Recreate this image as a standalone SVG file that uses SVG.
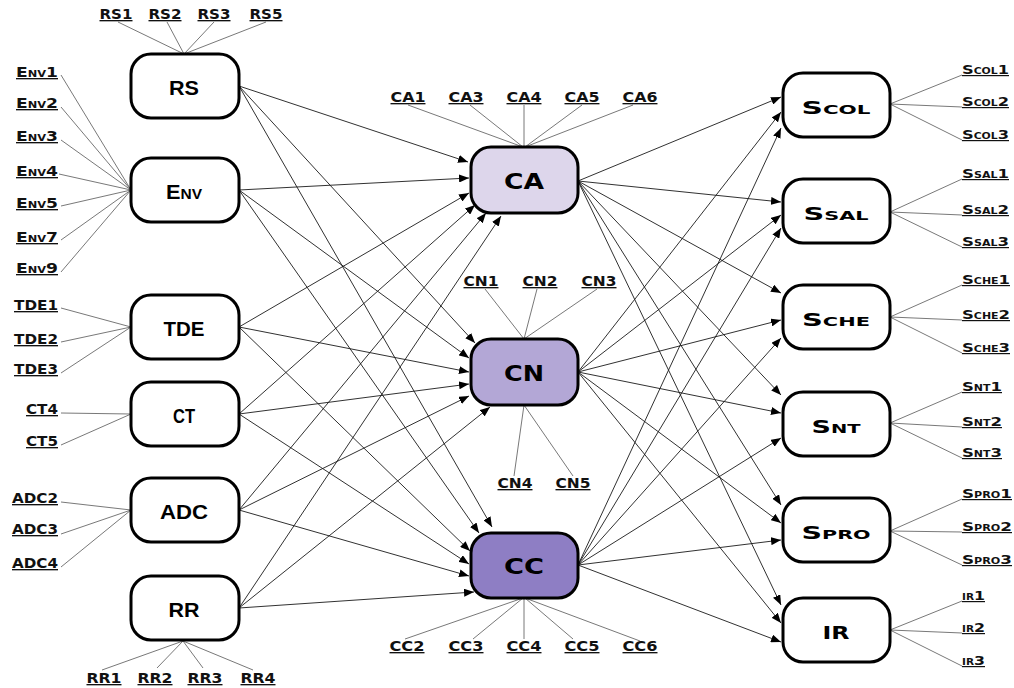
<svg xmlns="http://www.w3.org/2000/svg" width="1014" height="688" viewBox="0 0 1014 688">
<style>
  .box{fill:#fff;stroke:#000;stroke-width:3}
  .ca{fill:#ddd6eb}.cn{fill:#b3a7d6}.cc{fill:#8e7ec4}
  .sat{stroke:#555;stroke-width:0.8;fill:none}
  .edge{stroke:#1a1a1a;stroke-width:0.9;fill:none;marker-end:url(#ah)}
  .lbl{font-family:"DejaVu Sans",sans-serif;font-weight:bold;font-size:13.5px;fill:#111;text-decoration:underline}
  .rl{font-size:12px}
  .sc{font-variant:small-caps}
  .nl{font-family:"Liberation Sans",Arial,sans-serif;font-weight:bold;font-size:21px;fill:#000}
  .nw{font-family:"DejaVu Sans",sans-serif;font-weight:bold;font-size:22px;fill:#000}
  .nr{font-family:"DejaVu Sans",sans-serif;font-weight:bold;font-size:18px;fill:#000;font-variant:small-caps}
</style>
<defs>
  <marker id="ah" markerUnits="userSpaceOnUse" markerWidth="10" markerHeight="8" refX="10" refY="4" orient="auto">
    <path d="M0,0 L10,4 L0,8 z" fill="#000"/>
  </marker>
</defs>
<rect width="1014" height="688" fill="#fff"/>

<!-- connectors between the three layers -->
<g id="connectors">
  <!-- left layer to CA / CN / CC -->
  <line class="edge" x1="239" y1="86" x2="468" y2="162"/>
  <line class="edge" x1="239" y1="86" x2="475" y2="343"/>
  <line class="edge" x1="239" y1="86" x2="492" y2="527"/>
  <line class="edge" x1="239" y1="190" x2="469" y2="178"/>
  <line class="edge" x1="239" y1="190" x2="469" y2="358"/>
  <line class="edge" x1="239" y1="190" x2="479" y2="533"/>
  <line class="edge" x1="239" y1="327" x2="469" y2="193"/>
  <line class="edge" x1="239" y1="327" x2="469" y2="372"/>
  <line class="edge" x1="239" y1="327" x2="470" y2="551"/>
  <line class="edge" x1="239" y1="414" x2="475" y2="205"/>
  <line class="edge" x1="239" y1="414" x2="469" y2="384"/>
  <line class="edge" x1="239" y1="414" x2="469" y2="564"/>
  <line class="edge" x1="239" y1="510" x2="486" y2="213"/>
  <line class="edge" x1="239" y1="510" x2="469" y2="396"/>
  <line class="edge" x1="239" y1="510" x2="469" y2="576"/>
  <line class="edge" x1="239" y1="608" x2="501" y2="216"/>
  <line class="edge" x1="239" y1="608" x2="490" y2="407"/>
  <line class="edge" x1="239" y1="608" x2="474" y2="592"/>
  <!-- CA / CN / CC to right layer -->
  <line class="edge" x1="578" y1="181" x2="781" y2="97"/>
  <line class="edge" x1="578" y1="372" x2="781" y2="112"/>
  <line class="edge" x1="578" y1="565" x2="781" y2="128"/>
  <line class="edge" x1="578" y1="181" x2="781" y2="202"/>
  <line class="edge" x1="578" y1="372" x2="781" y2="215"/>
  <line class="edge" x1="578" y1="565" x2="781" y2="228"/>
  <line class="edge" x1="578" y1="181" x2="781" y2="293"/>
  <line class="edge" x1="578" y1="372" x2="781" y2="320"/>
  <line class="edge" x1="578" y1="565" x2="781" y2="338"/>
  <line class="edge" x1="578" y1="181" x2="781" y2="395"/>
  <line class="edge" x1="578" y1="372" x2="781" y2="413"/>
  <line class="edge" x1="578" y1="565" x2="781" y2="438"/>
  <line class="edge" x1="578" y1="181" x2="781" y2="505"/>
  <line class="edge" x1="578" y1="372" x2="781" y2="523"/>
  <line class="edge" x1="578" y1="565" x2="781" y2="540"/>
  <line class="edge" x1="578" y1="181" x2="781" y2="605"/>
  <line class="edge" x1="578" y1="372" x2="781" y2="623"/>
  <line class="edge" x1="578" y1="565" x2="781" y2="642"/>
</g>

<!-- left layer -->
<g id="RS">
  <path class="sat" d="M118,22 L184,54 M167,22 L184,54 M214,22 L184,54 M266,22 L184,54"/>
  <text class="lbl" x="116" y="19" text-anchor="middle" textLength="33" lengthAdjust="spacingAndGlyphs">RS1</text>
  <text class="lbl" x="165" y="19" text-anchor="middle" textLength="33" lengthAdjust="spacingAndGlyphs">RS2</text>
  <text class="lbl" x="214" y="19" text-anchor="middle" textLength="33" lengthAdjust="spacingAndGlyphs">RS3</text>
  <text class="lbl" x="266" y="19" text-anchor="middle" textLength="33" lengthAdjust="spacingAndGlyphs">RS5</text>
  <rect class="box" x="131" y="54" width="108" height="64" rx="20"/>
  <text class="nl" x="184" y="95" text-anchor="middle" textLength="30" lengthAdjust="spacingAndGlyphs">RS</text>
</g>
<g id="Env">
  <path class="sat" d="M61,75 L131,190 M61,107 L131,190 M61,140 L131,190 M59,174 L131,190 M61,206 L131,190 M61,240 L131,190 M61,272 L131,190"/>
  <text class="lbl sc" x="58" y="77" text-anchor="end" textLength="42" lengthAdjust="spacingAndGlyphs">Env1</text>
  <text class="lbl sc" x="58" y="108" text-anchor="end" textLength="42" lengthAdjust="spacingAndGlyphs">Env2</text>
  <text class="lbl sc" x="58" y="141" text-anchor="end" textLength="42" lengthAdjust="spacingAndGlyphs">Env3</text>
  <text class="lbl sc" x="58" y="176" text-anchor="end" textLength="42" lengthAdjust="spacingAndGlyphs">Env4</text>
  <text class="lbl sc" x="58" y="208" text-anchor="end" textLength="42" lengthAdjust="spacingAndGlyphs">Env5</text>
  <text class="lbl sc" x="58" y="242" text-anchor="end" textLength="42" lengthAdjust="spacingAndGlyphs">Env7</text>
  <text class="lbl sc" x="58" y="273" text-anchor="end" textLength="42" lengthAdjust="spacingAndGlyphs">Env9</text>
  <rect class="box" x="131" y="158" width="108" height="64" rx="20"/>
  <text class="nl sc" x="184" y="199" text-anchor="middle" textLength="36" lengthAdjust="spacingAndGlyphs">Env</text>
</g>
<g id="TDE">
  <path class="sat" d="M61,308 L131,327 M61,342 L131,327 M61,373 L131,327"/>
  <text class="lbl" x="58" y="310" text-anchor="end" textLength="44" lengthAdjust="spacingAndGlyphs">TDE1</text>
  <text class="lbl" x="58" y="344" text-anchor="end" textLength="44" lengthAdjust="spacingAndGlyphs">TDE2</text>
  <text class="lbl" x="58" y="374" text-anchor="end" textLength="44" lengthAdjust="spacingAndGlyphs">TDE3</text>
  <rect class="box" x="131" y="295" width="108" height="64" rx="20"/>
  <text class="nl" x="184" y="336" text-anchor="middle" textLength="41" lengthAdjust="spacingAndGlyphs">TDE</text>
</g>
<g id="CT">
  <path class="sat" d="M61,413 L131,414 M61,445 L131,414"/>
  <text class="lbl" x="58" y="414" text-anchor="end" textLength="32" lengthAdjust="spacingAndGlyphs">CT4</text>
  <text class="lbl" x="58" y="446" text-anchor="end" textLength="32" lengthAdjust="spacingAndGlyphs">CT5</text>
  <rect class="box" x="131" y="382" width="108" height="64" rx="20"/>
  <text class="nl" x="184" y="423" text-anchor="middle" textLength="22" lengthAdjust="spacingAndGlyphs">CT</text>
</g>
<g id="ADC">
  <path class="sat" d="M61,502 L131,510 M61,534 L131,510 M61,567 L131,510"/>
  <text class="lbl" x="58" y="503" text-anchor="end" textLength="46" lengthAdjust="spacingAndGlyphs">ADC2</text>
  <text class="lbl" x="58" y="534" text-anchor="end" textLength="46" lengthAdjust="spacingAndGlyphs">ADC3</text>
  <text class="lbl" x="58" y="568" text-anchor="end" textLength="46" lengthAdjust="spacingAndGlyphs">ADC4</text>
  <rect class="box" x="131" y="478" width="108" height="64" rx="20"/>
  <text class="nl" x="184" y="519" text-anchor="middle" textLength="48" lengthAdjust="spacingAndGlyphs">ADC</text>
</g>
<g id="RR">
  <path class="sat" d="M102,670 L183,641 M157,668 L183,641 M203,668 L183,641 M253,670 L183,641"/>
  <text class="lbl" x="104" y="683" text-anchor="middle" textLength="35" lengthAdjust="spacingAndGlyphs">RR1</text>
  <text class="lbl" x="155" y="683" text-anchor="middle" textLength="35" lengthAdjust="spacingAndGlyphs">RR2</text>
  <text class="lbl" x="205" y="683" text-anchor="middle" textLength="35" lengthAdjust="spacingAndGlyphs">RR3</text>
  <text class="lbl" x="258" y="683" text-anchor="middle" textLength="35" lengthAdjust="spacingAndGlyphs">RR4</text>
  <rect class="box" x="131" y="576" width="108" height="64" rx="20"/>
  <text class="nl" x="184" y="617" text-anchor="middle" textLength="31" lengthAdjust="spacingAndGlyphs">RR</text>
</g>

<!-- middle layer -->
<g id="CA">
  <path class="sat" d="M408,105 L523,147 M470,105 L523,147 M524,105 L524,147 M582,105 L525,147 M633,105 L525,147"/>
  <text class="lbl" x="408" y="102" text-anchor="middle" textLength="35" lengthAdjust="spacingAndGlyphs">CA1</text>
  <text class="lbl" x="466" y="102" text-anchor="middle" textLength="35" lengthAdjust="spacingAndGlyphs">CA3</text>
  <text class="lbl" x="524" y="102" text-anchor="middle" textLength="35" lengthAdjust="spacingAndGlyphs">CA4</text>
  <text class="lbl" x="582" y="102" text-anchor="middle" textLength="35" lengthAdjust="spacingAndGlyphs">CA5</text>
  <text class="lbl" x="640" y="102" text-anchor="middle" textLength="35" lengthAdjust="spacingAndGlyphs">CA6</text>
  <rect class="box ca" x="471" y="147" width="107" height="66" rx="20"/>
  <text class="nw" x="524" y="189" text-anchor="middle" textLength="40" lengthAdjust="spacingAndGlyphs">CA</text>
</g>
<g id="CN">
  <path class="sat" d="M485,289 L524,339 M537,289 L524,339 M597,289 L524,339 M524,405 L514,476 M524,405 L573,476"/>
  <text class="lbl" x="481" y="286" text-anchor="middle" textLength="35" lengthAdjust="spacingAndGlyphs">CN1</text>
  <text class="lbl" x="540" y="286" text-anchor="middle" textLength="35" lengthAdjust="spacingAndGlyphs">CN2</text>
  <text class="lbl" x="599" y="286" text-anchor="middle" textLength="35" lengthAdjust="spacingAndGlyphs">CN3</text>
  <text class="lbl" x="515" y="488" text-anchor="middle" textLength="35" lengthAdjust="spacingAndGlyphs">CN4</text>
  <text class="lbl" x="573" y="488" text-anchor="middle" textLength="35" lengthAdjust="spacingAndGlyphs">CN5</text>
  <rect class="box cn" x="471" y="339" width="107" height="66" rx="20"/>
  <text class="nw" x="524" y="381" text-anchor="middle" textLength="40" lengthAdjust="spacingAndGlyphs">CN</text>
</g>
<g id="CC">
  <path class="sat" d="M523,598 L405,639 M523,598 L473,639 M524,598 L524,639 M525,598 L573,639 M525,598 L640,641"/>
  <text class="lbl" x="407" y="651" text-anchor="middle" textLength="35" lengthAdjust="spacingAndGlyphs">CC2</text>
  <text class="lbl" x="466" y="651" text-anchor="middle" textLength="35" lengthAdjust="spacingAndGlyphs">CC3</text>
  <text class="lbl" x="524" y="651" text-anchor="middle" textLength="35" lengthAdjust="spacingAndGlyphs">CC4</text>
  <text class="lbl" x="582" y="651" text-anchor="middle" textLength="35" lengthAdjust="spacingAndGlyphs">CC5</text>
  <text class="lbl" x="640" y="651" text-anchor="middle" textLength="35" lengthAdjust="spacingAndGlyphs">CC6</text>
  <rect class="box cc" x="471" y="533" width="107" height="65" rx="20"/>
  <text class="nw" x="524" y="574" text-anchor="middle" textLength="40" lengthAdjust="spacingAndGlyphs">CC</text>
</g>

<!-- right layer -->
<g id="Scol">
  <path class="sat" d="M890,104 L962,75 M890,104 L962,107 M890,104 L962,140"/>
  <text class="lbl rl sc" x="962" y="74" textLength="47" lengthAdjust="spacingAndGlyphs">Scol1</text>
  <text class="lbl rl sc" x="962" y="106" textLength="47" lengthAdjust="spacingAndGlyphs">Scol2</text>
  <text class="lbl rl sc" x="962" y="139" textLength="47" lengthAdjust="spacingAndGlyphs">Scol3</text>
  <rect class="box" x="783" y="73" width="107" height="64" rx="20"/>
  <text class="nr" x="836" y="114" text-anchor="middle" textLength="69" lengthAdjust="spacingAndGlyphs">Scol</text>
</g>
<g id="Ssal">
  <path class="sat" d="M890,212 L962,179 M890,212 L962,215 M890,212 L962,247"/>
  <text class="lbl rl sc" x="962" y="178" textLength="47" lengthAdjust="spacingAndGlyphs">Ssal1</text>
  <text class="lbl rl sc" x="962" y="214" textLength="47" lengthAdjust="spacingAndGlyphs">Ssal2</text>
  <text class="lbl rl sc" x="962" y="246" textLength="47" lengthAdjust="spacingAndGlyphs">Ssal3</text>
  <rect class="box" x="783" y="179" width="107" height="64" rx="20"/>
  <text class="nr" x="836" y="220" text-anchor="middle" textLength="65" lengthAdjust="spacingAndGlyphs">Ssal</text>
</g>
<g id="Sche">
  <path class="sat" d="M890,317 L962,285 M890,317 L962,320 M890,317 L962,353"/>
  <text class="lbl rl sc" x="962" y="284" textLength="48" lengthAdjust="spacingAndGlyphs">Sche1</text>
  <text class="lbl rl sc" x="962" y="319" textLength="48" lengthAdjust="spacingAndGlyphs">Sche2</text>
  <text class="lbl rl sc" x="962" y="352" textLength="48" lengthAdjust="spacingAndGlyphs">Sche3</text>
  <rect class="box" x="783" y="285" width="107" height="64" rx="20"/>
  <text class="nr" x="836" y="326" text-anchor="middle" textLength="68" lengthAdjust="spacingAndGlyphs">Sche</text>
</g>
<g id="Snt">
  <path class="sat" d="M890,423 L962,392 M890,423 L962,427 M890,423 L962,458"/>
  <text class="lbl rl sc" x="962" y="391" textLength="40" lengthAdjust="spacingAndGlyphs">Snt1</text>
  <text class="lbl rl sc" x="962" y="426" textLength="40" lengthAdjust="spacingAndGlyphs">Snt2</text>
  <text class="lbl rl sc" x="962" y="457" textLength="40" lengthAdjust="spacingAndGlyphs">Snt3</text>
  <rect class="box" x="783" y="392" width="107" height="64" rx="20"/>
  <text class="nr" x="836" y="433" text-anchor="middle" textLength="49" lengthAdjust="spacingAndGlyphs">Snt</text>
</g>
<g id="Spro">
  <path class="sat" d="M890,531 L962,499 M890,531 L962,532 M890,531 L962,565"/>
  <text class="lbl rl sc" x="962" y="498" textLength="50" lengthAdjust="spacingAndGlyphs">Spro1</text>
  <text class="lbl rl sc" x="962" y="531" textLength="50" lengthAdjust="spacingAndGlyphs">Spro2</text>
  <text class="lbl rl sc" x="962" y="564" textLength="50" lengthAdjust="spacingAndGlyphs">Spro3</text>
  <rect class="box" x="783" y="498" width="107" height="64" rx="20"/>
  <text class="nr" x="836" y="539" text-anchor="middle" textLength="69" lengthAdjust="spacingAndGlyphs">Spro</text>
</g>
<g id="IR">
  <path class="sat" d="M890,630 L962,601 M890,630 L962,633 M890,630 L962,666"/>
  <text class="lbl rl sc" x="962" y="600" textLength="23" lengthAdjust="spacingAndGlyphs">ir1</text>
  <text class="lbl rl sc" x="962" y="632" textLength="23" lengthAdjust="spacingAndGlyphs">ir2</text>
  <text class="lbl rl sc" x="962" y="665" textLength="23" lengthAdjust="spacingAndGlyphs">ir3</text>
  <rect class="box" x="783" y="598" width="107" height="64" rx="20"/>
  <text class="nr" x="836" y="639" text-anchor="middle" textLength="27" lengthAdjust="spacingAndGlyphs">IR</text>
</g>
</svg>
